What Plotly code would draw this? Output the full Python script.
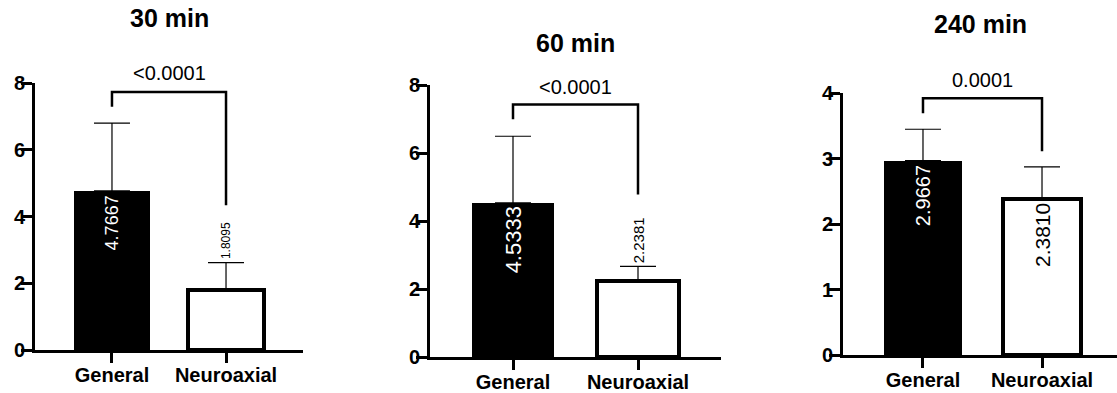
import plotly.graph_objects as go

# ---------------- data ----------------
categories = ["General", "Neuroaxial"]
panel_titles = ["30 min", "60 min", "240 min"]
means_30 = [4.7667, 1.8095]
sd_30 = [2.03, 0.81]
means_60 = [4.5333, 2.2381]
sd_60 = [1.96, 0.43]
means_240 = [2.9667, 2.3810]
sd_240 = [0.48, 0.49]
p_values = ["<0.0001", "<0.0001", "0.0001"]
bracket_top = [7.73, 7.43, 3.92]
bracket_left_end = [7.29, 6.99, 3.69]
bracket_right_end = [4.34, 4.78, 3.11]
y_max = [8, 8, 4]
y_dtick = [2, 2, 1]

means = [means_30, means_60, means_240]
sds = [sd_30, sd_60, sd_240]

# ---------------- style / layout ----------------
W, H = 1117, 393
FONT = "Liberation Sans, Arial, sans-serif"
# pixel geometry of each panel: x-left, x-right, y of zero, y of max
panel_px = [
    dict(x0=35, x1=303, y0=350, y1=83, xr=[-0.675, 1.675], title_y=18, p_shift=19),
    dict(x0=430, x1=721, y0=357, y1=85, xr=[-0.664, 1.664], title_y=43, p_shift=17),
    dict(x0=843, x1=1117, y0=355, y1=93, xr=[-0.672, 1.63], title_y=24, p_shift=18),
]
# label placement per panel for [General, Neuroaxial]
label_style = [
    [dict(inside=True, size=18), dict(inside=False, size=12)],
    [dict(inside=True, size=22), dict(inside=False, size=15)],
    [dict(inside=True, size=20), dict(inside=True, size=21)],
]
fill_colors = ["black", "white"]
line_widths = [0, 4]

fig = go.Figure()
annotations = []

for i in range(3):
    px = panel_px[i]
    sfx = "" if i == 0 else str(i + 1)
    xa, ya = "x" + sfx, "y" + sfx
    m, s = means[i], sds[i]

    fig.add_trace(go.Bar(
        x=categories, y=m, width=0.66,
        marker=dict(color=fill_colors, line=dict(color="black", width=line_widths)),
        error_y=dict(type="data", symmetric=False, array=s, arrayminus=[0, 0],
                     color="black", thickness=1.2, width=18),
        xaxis=xa, yaxis=ya, showlegend=False, hoverinfo="skip",
    ))
    # significance bracket
    fig.add_trace(go.Scatter(
        x=[categories[0], categories[0], categories[1], categories[1]],
        y=[bracket_left_end[i], bracket_top[i], bracket_top[i], bracket_right_end[i]],
        mode="lines", line=dict(color="black", width=2.5),
        xaxis=xa, yaxis=ya, showlegend=False, hoverinfo="skip",
    ))
    annotations.append(dict(
        x=0.5, y=bracket_top[i], xref=xa, yref=ya, text=p_values[i],
        showarrow=False, yanchor="middle", yshift=px["p_shift"],
        font=dict(family=FONT, size=20, color="black"),
    ))
    # value labels
    for j in range(2):
        st = label_style[i][j]
        if st["inside"]:
            yv, ya_anchor, shift = m[j], "top", -2
            col = "white" if fill_colors[j] == "black" else "black"
        else:
            yv, ya_anchor, shift = m[j] + s[j], "bottom", 1
            col = "black"
        annotations.append(dict(
            x=categories[j], y=yv, xref=xa, yref=ya, text=f"{m[j]:.4f}",
            textangle=-90, showarrow=False, yanchor=ya_anchor, yshift=shift,
            font=dict(family=FONT, size=st["size"], color=col),
        ))
    # title
    annotations.append(dict(
        x=(px["x0"] + px["x1"]) / 2 / W, y=1 - px["title_y"] / H,
        xref="paper", yref="paper", text="<b>" + panel_titles[i] + "</b>",
        showarrow=False, xanchor="center", yanchor="middle",
        font=dict(family=FONT, size=25, color="black"),
    ))

    xdom = [px["x0"] / W, px["x1"] / W]
    ydom = [1 - px["y0"] / H, 1 - px["y1"] / H]
    fig.update_layout(**{
        "xaxis" + sfx: dict(
            domain=xdom, range=px["xr"], anchor=ya, type="category",
            automargin=False,
            showline=True, linecolor="black", linewidth=3,
            ticks="outside", ticklen=10, tickwidth=3, tickcolor="black",
            ticklabelstandoff=-5,
            showgrid=False, zeroline=False,
            tickfont=dict(family=FONT, size=20, color="black"),
            tickprefix="<b>", ticksuffix="</b>",
        ),
        "yaxis" + sfx: dict(
            domain=ydom, range=[0, y_max[i]], anchor=xa, dtick=y_dtick[i],
            automargin=False,
            showline=True, linecolor="black", linewidth=3,
            ticks="outside", ticklen=11, tickwidth=3, tickcolor="black",
            ticklabelstandoff=-8,
            showgrid=False, zeroline=False,
            tickfont=dict(family="Arial Black, Liberation Sans, Arial, sans-serif",
                          size=20, color="black", weight="bold"),
        ),
    })

fig.update_layout(
    width=W, height=H, margin=dict(l=0, r=0, t=0, b=0, pad=0, autoexpand=False),
    paper_bgcolor="white", plot_bgcolor="white",
    showlegend=False, annotations=annotations, bargap=0,
)

fig.write_html(
    "out.html",
    config={"displayModeBar": False},
    post_script="document.body.style.margin='0';document.body.style.overflow='hidden';",
)
